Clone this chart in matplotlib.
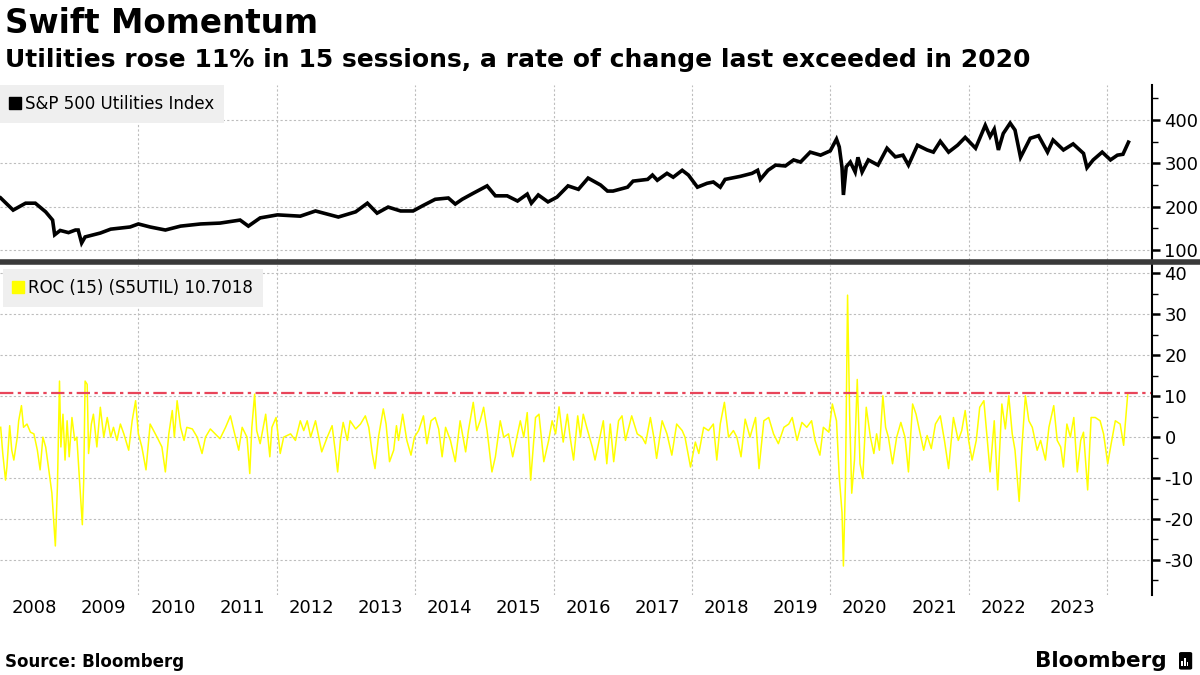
import matplotlib
matplotlib.use("Agg")
import matplotlib.pyplot as plt
from matplotlib.lines import Line2D
from matplotlib.patches import FancyBboxPatch, Rectangle
from matplotlib.ticker import MultipleLocator, FixedLocator, NullFormatter

# ---------------- data ----------------
index_years = [2008.01, 2008.19, 2008.37, 2008.51, 2008.66, 2008.76, 2008.79, 2008.87, 2008.99, 2009.09,
               2009.13, 2009.18, 2009.23, 2009.45, 2009.60, 2009.88, 2010.00, 2010.17, 2010.39, 2010.61,
               2010.90, 2011.18, 2011.47, 2011.59, 2011.76, 2012.01, 2012.34, 2012.56, 2012.89, 2013.14,
               2013.31, 2013.45, 2013.61, 2013.79, 2013.97, 2014.12, 2014.29, 2014.48, 2014.58, 2014.68,
               2014.84, 2015.04, 2015.16, 2015.33, 2015.48, 2015.62, 2015.68, 2015.78, 2015.92, 2016.05,
               2016.21, 2016.36, 2016.50, 2016.68, 2016.78, 2016.86, 2017.07, 2017.15, 2017.36, 2017.43,
               2017.50, 2017.64, 2017.73, 2017.86, 2017.95, 2018.08, 2018.22, 2018.31, 2018.41, 2018.48,
               2018.70, 2018.87, 2018.95, 2018.99, 2019.10, 2019.21, 2019.35, 2019.47, 2019.57, 2019.71,
               2019.86, 2020.00, 2020.09, 2020.13, 2020.17, 2020.19, 2020.23, 2020.29, 2020.36, 2020.40,
               2020.46, 2020.55, 2020.69, 2020.82, 2020.94, 2021.05, 2021.13, 2021.26, 2021.40, 2021.49,
               2021.59, 2021.71, 2021.84, 2021.95, 2022.10, 2022.24, 2022.31, 2022.37, 2022.43, 2022.50,
               2022.60, 2022.67, 2022.75, 2022.89, 2023.01, 2023.14, 2023.22, 2023.37, 2023.51, 2023.66,
               2023.71, 2023.80, 2023.93, 2024.05, 2024.15, 2024.23, 2024.31]
index_values = [220, 192, 208, 208, 188, 169, 135, 145, 140, 146,
                146, 116, 130, 139, 148, 153, 160, 153, 146, 155,
                160, 162, 169, 155, 174, 181, 178, 190, 176, 188,
                208, 185, 199, 190, 190, 203, 217, 220, 206, 217,
                231, 248, 225, 225, 213, 229, 208, 227, 211, 222,
                248, 240, 266, 250, 236, 236, 245, 259, 263, 273,
                261, 277, 268, 284, 273, 245, 254, 257, 245, 263,
                270, 277, 284, 263, 284, 296, 294, 308, 303, 326,
                319, 329, 356, 338, 290, 227, 292, 303, 280, 314,
                280, 308, 296, 335, 315, 319, 296, 342, 331, 326,
                351, 326, 342, 360, 335, 388, 362, 379, 331, 369,
                393, 377, 314, 358, 364, 326, 354, 331, 345, 323,
                290, 308, 326, 308, 319, 321, 349]

roc_years = [2008.01, 2008.04, 2008.08, 2008.10, 2008.14, 2008.17, 2008.20, 2008.25, 2008.27, 2008.31,
             2008.34, 2008.39, 2008.44, 2008.49, 2008.54, 2008.58, 2008.62, 2008.66, 2008.70, 2008.75,
             2008.80, 2008.83, 2008.86, 2008.88, 2008.91, 2008.94, 2008.97, 2009.00, 2009.04, 2009.08,
             2009.11, 2009.15, 2009.19, 2009.21, 2009.23, 2009.26, 2009.28, 2009.32, 2009.35, 2009.40,
             2009.45, 2009.50, 2009.55, 2009.60, 2009.64, 2009.69, 2009.74, 2009.79, 2009.86, 2009.91,
             2009.96, 2010.00, 2010.05, 2010.11, 2010.17, 2010.22, 2010.27, 2010.34, 2010.39, 2010.44,
             2010.49, 2010.52, 2010.56, 2010.61, 2010.66, 2010.70, 2010.78, 2010.85, 2010.92, 2010.97,
             2011.04, 2011.11, 2011.18, 2011.26, 2011.33, 2011.38, 2011.45, 2011.50, 2011.57, 2011.61,
             2011.64, 2011.68, 2011.71, 2011.76, 2011.84, 2011.90, 2011.93, 2011.99, 2012.05, 2012.10,
             2012.20, 2012.27, 2012.34, 2012.39, 2012.44, 2012.49, 2012.56, 2012.65, 2012.73, 2012.80,
             2012.85, 2012.88, 2012.92, 2012.96, 2013.02, 2013.06, 2013.14, 2013.21, 2013.28, 2013.33,
             2013.38, 2013.42, 2013.47, 2013.54, 2013.58, 2013.63, 2013.69, 2013.73, 2013.76, 2013.82,
             2013.88, 2013.94, 2013.99, 2014.05, 2014.12, 2014.17, 2014.23, 2014.29, 2014.34, 2014.39,
             2014.44, 2014.51, 2014.58, 2014.65, 2014.73, 2014.77, 2014.84, 2014.89, 2014.94, 2014.99,
             2015.04, 2015.11, 2015.16, 2015.23, 2015.28, 2015.35, 2015.41, 2015.47, 2015.52, 2015.57,
             2015.62, 2015.67, 2015.74, 2015.79, 2015.86, 2015.93, 2015.98, 2016.03, 2016.08, 2016.14,
             2016.20, 2016.24, 2016.29, 2016.35,
             2016.39, 2016.43, 2016.48, 2016.56, 2016.60, 2016.65, 2016.72, 2016.77, 2016.82, 2016.87,
             2016.94, 2016.99, 2017.04, 2017.13, 2017.21, 2017.28, 2017.33, 2017.40, 2017.45, 2017.49,
             2017.57, 2017.64, 2017.71, 2017.78, 2017.86, 2017.90, 2017.98, 2018.05, 2018.10, 2018.17,
             2018.24, 2018.31, 2018.36, 2018.41, 2018.47, 2018.53, 2018.60, 2018.65, 2018.71, 2018.77,
             2018.84, 2018.92, 2018.97, 2019.04, 2019.11, 2019.18, 2019.25, 2019.33, 2019.40, 2019.45,
             2019.52, 2019.59, 2019.66, 2019.73, 2019.78, 2019.85, 2019.90, 2019.98, 2020.03, 2020.09,
             2020.13, 2020.17, 2020.19, 2020.22, 2020.25, 2020.28, 2020.31, 2020.35, 2020.39, 2020.43,
             2020.47, 2020.52,
             2020.58, 2020.63, 2020.67, 2020.71, 2020.76, 2020.80, 2020.84, 2020.90, 2020.96, 2021.02,
             2021.08, 2021.13, 2021.19, 2021.24, 2021.30, 2021.35, 2021.40, 2021.46, 2021.52, 2021.59,
             2021.65, 2021.71, 2021.78, 2021.85, 2021.90, 2021.95, 2022.00, 2022.05, 2022.11, 2022.16,
             2022.22, 2022.27, 2022.31, 2022.37, 2022.42, 2022.48, 2022.53, 2022.58, 2022.63, 2022.67,
             2022.73, 2022.77, 2022.82, 2022.87, 2022.92, 2022.99, 2023.04, 2023.11, 2023.16, 2023.23,
             2023.28, 2023.33, 2023.37, 2023.42, 2023.47, 2023.52, 2023.57, 2023.62, 2023.66, 2023.72,
             2023.77, 2023.83, 2023.90, 2023.95, 2024.01, 2024.06, 2024.12, 2024.19, 2024.24, 2024.26,
             2024.30]
roc_values = [2.4, -4, -10.5, -7.3, 2.8, -3.2, -5.6, 0, 4, 7.7,
              2.4, 3.2, 1.2, 0.8, -3.2, -8, 0, -2.4, -7.3, -13.7,
              -26.6, -12, 13.7, -2.4, 5.6, -5.6, 4, -4.8, 4.8, -0.8,
              0, -10.5, -21.4, -10.5, 13.7, 12.9, -4, 3.2, 5.6, -2.4,
              7.3, 0, 4.8, 0, 2.4, -0.8, 3.2, 0.8, -3.2, 4,
              8.9, 0.8, -2.4, -8, 3.2, 1.6, 0, -2.4, -8.5, 0.8,
              6.5, 0, 8.9, 2.4, -0.8, 2.4, 2, 0, -4, 0,
              2, 0.8, -0.4, 2.4, 5.2, 1.6, -3.2, 2.4, 0, -8.9,
              2.4, 10.5, 1.6, -1.6, 5.6, -4.8, 2.4, 4.8, -4, 0,
              0.8, -0.8, 4, 1.6, 4, 0, 4, -3.6, 0, 2.8,
              -4, -8.5, -0.8, 3.6, -0.8, 4, 2, 3.2, 5.2, 2.4,
              -4, -7.7, 0, 6.9, 3.2, -6, -3.2, 2.8, -0.8, 5.6,
              -0.8, -4.4, 0, 1.6, 5.2, -1.6, 4, 4.8, 2, -4.8,
              2.4, -0.8, -6, 4, -3.6, 1.6, 8.5, 1.6, 4, 7.3,
              1.6, -8.5, -4.8, 4, 0, 0.8, -4.8, 0, 4, 0,
              6, -10.5, 4.8, 5.6, -6, -0.8, 4, 0.8, 7.4, -1.2,
              5.6, 0, -5.6, 5.2,
              0, 5.6, 2.4, -2.4, -5.6, -1.6, 4, -6.5, 3.2, -6,
              4, 5.2, -0.8, 5.2, 0.8, 0, -1.6, 4.8, 0, -5.2,
              4, 0.8, -4.4, 3.2, 1.6, 0, -7.3, -1.2, -4, 2.4,
              1.6, 3.2, -5.6, 3.2, 8.5, 0, 1.6, 0, -4.8, 4.4,
              0, 4.8, -7.7, 4, 4.8, 0.8, -1.6, 2.4, 3.2, 4.8,
              -0.8, 3.6, 2.4, 4, -0.8, -4.4, 2.4, 1.2, 8.1, 4,
              -9.7, -18.5, -31.5, -10.5, 34.7, 5.6, -13.7, -5.6, 14.1, -6.5,
              -10.1, 7.3,
              0, -4, 0.8, -3.2, 10.1, 2.4, 0, -6.5, 0, 3.6,
              0, -8.5, 8.1, 5.6, 0.8, -3.2, 0.4, -2.8, 3.2, 5.2,
              -0.8, -7.7, 4.8, -0.8, 1.6, 6.5, -0.8, -5.6, -0.8, 7.3,
              8.9, -0.8, -8.5, 4, -12.9, 8.1, 2, 10.1, 0.8, -3.2,
              -15.7, -2.4, 10.1, 4, 2.4, -3.2, -0.8, -5.6, 2.4, 7.7,
              -0.8, -2.4, -7.3, 3.2, 0, 4.8, -8.5, -0.8, 1.2, -12.9,
              4.8, 4.8, 4, 0.8, -6.5, -1.6, 4, 3.2, -2, 2.4,
              10.7]
roc_latest = 10.7018
year_labels = list(range(2008, 2024))
grid_years = list(range(2010, 2025, 2))
index_ticks = [100, 200, 300, 400]
roc_ticks = [-30, -20, -10, 0, 10, 20, 30, 40]

title = "Swift Momentum"
subtitle = "Utilities rose 11% in 15 sessions, a rate of change last exceeded in 2020"
source = "Source: Bloomberg"
index_label = "S&P 500 Utilities Index"
roc_label = "ROC (15) (S5UTIL) 10.7018"

# ---------------- figure ----------------
plt.rcParams["font.family"] = ["DejaVu Sans"]
plt.rcParams["axes.unicode_minus"] = False
fig = plt.figure(figsize=(12, 6.75), dpi=100)

ax1 = fig.add_axes([0.0, 0.615, 0.96, 0.259])
ax2 = fig.add_axes([0.0, 0.119, 0.96, 0.488])

x_min, x_max = 2008.0, 2024.65
grid_kw = dict(color="#bdbdbd", linestyle=(0, (2, 2)), linewidth=0.8)

for ax in (ax1, ax2):
    ax.set_xlim(x_min, x_max)
    for s in ("left", "top", "bottom"):
        ax.spines[s].set_visible(False)
    ax.spines["right"].set_color("black")
    ax.spines["right"].set_linewidth(1.5)
    ax.yaxis.tick_right()
    ax.tick_params(axis="y", which="major", direction="out", length=6, width=1.8,
                   labelsize=13, pad=3, colors="black")
    ax.tick_params(axis="y", which="minor", direction="out", length=4, width=1.0)
    ax.xaxis.set_minor_locator(FixedLocator(grid_years))
    ax.tick_params(axis="x", which="both", length=0)
    ax.xaxis.grid(True, which="minor", **grid_kw)
    ax.yaxis.grid(True, which="major", **grid_kw)
    ax.set_axisbelow(True)

# top panel
ax1.plot(index_years, index_values, color="black", linewidth=2.6, solid_joinstyle="miter")
ax1.set_ylim(77, 481)
ax1.yaxis.set_major_locator(FixedLocator(index_ticks))
ax1.yaxis.set_minor_locator(MultipleLocator(50))
ax1.xaxis.set_major_locator(FixedLocator([y + 0.5 for y in year_labels]))
ax1.xaxis.set_major_formatter(NullFormatter())

# bottom panel
ax2.plot(roc_years, roc_values, color="#ffff00", linewidth=1.1)
ax2.axhline(roc_latest, color="#e8455a", linewidth=1.6, linestyle=(0, (6, 2, 1.5, 2)))
ax2.set_ylim(-38.5, 42)
ax2.yaxis.set_major_locator(FixedLocator(roc_ticks))
ax2.yaxis.set_minor_locator(MultipleLocator(5))
ax2.xaxis.set_major_locator(FixedLocator([y + 0.5 for y in year_labels]))
ax2.set_xticklabels([str(y) for y in year_labels])
ax2.tick_params(axis="x", which="major", labelsize=13, pad=3)

# legends
leg_kw = dict(loc="upper left", frameon=True, fancybox=False, borderaxespad=0.0,
              handlelength=0.6, handletextpad=0.3, borderpad=0.6, fontsize=12)
h1 = Line2D([], [], marker="s", color="black", linestyle="none", markersize=9)
l1 = ax1.legend([h1], [index_label], **leg_kw)
l1.get_frame().set_facecolor("#efefef")
l1.get_frame().set_edgecolor("none")
l1.get_frame().set_alpha(1)
h2 = Line2D([], [], marker="s", color="#ffff00", linestyle="none", markersize=9)
l2 = ax2.legend([h2], [roc_label], bbox_to_anchor=(0.003, 0.99), **leg_kw)
l2.get_frame().set_facecolor("#efefef")
l2.get_frame().set_edgecolor("none")
l2.get_frame().set_alpha(1)

# panel divider
fig.add_artist(Line2D([0, 1], [0.6115, 0.6115], color="#3a3a3a", linewidth=4, transform=fig.transFigure))

# titles and footer
fig.text(0.004, 0.965, title, fontsize=23.5, fontweight="bold", va="center", ha="left")
fig.text(0.004, 0.911, subtitle, fontsize=18, fontweight="bold", va="center", ha="left")
fig.text(0.004, 0.019, source, fontsize=12, fontweight="bold", va="center", ha="left")
fig.text(0.972, 0.021, "Bloomberg", fontsize=15.5, fontweight="bold", va="center", ha="right")
icon = FancyBboxPatch((0.9825, 0.008), 0.011, 0.026, boxstyle="round,pad=0,rounding_size=0.002",
                      transform=fig.transFigure, facecolor="black", edgecolor="none")
fig.add_artist(icon)
for dx, h in ((0.0845, 0.008), (0.0868, 0.012), (0.0891, 0.006)):
    fig.add_artist(Rectangle((0.9 + dx, 0.013), 0.0012, h, transform=fig.transFigure,
                             facecolor="white", edgecolor="none"))

fig.savefig("out.png", dpi=100)
